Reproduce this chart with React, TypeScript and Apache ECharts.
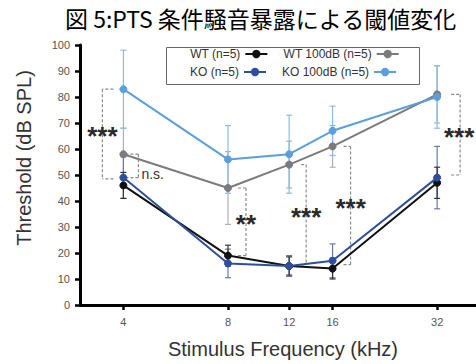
import React, { useEffect, useRef } from "react";
import * as echarts from "echarts";

// ---- data ----
const freqs = [4, 8, 12, 16, 32];
const tickLabels = [4, 8, 12, 16, 32];
const yTicks = [0, 10, 20, 30, 40, 50, 60, 70, 80, 90, 100];

const wt = [46, 19, 15, 14, 47];
const ko = [49, 16, 15, 17, 49];
const wt100 = [58, 45, 54, 61, 81];
const ko100 = [83, 56, 58, 67, 80];

const wtErr = [5, 4, 3.5, 4, 6];
const koErr = [8, 5.5, 4, 6.5, 12];
const wt100Err = [10, 14, 9, 8, 11];
const ko100Err = [15, 13, 15, 9.5, 12];

const seriesNames = ["WT (n=5)", "WT 100dB (n=5)", "KO (n=5)", "KO 100dB (n=5)"];

// significance brackets
const bracketFreq = [4, 4, 8, 12, 16, 32];
const bracketTop = [83, 58, 45, 54, 61, 81];
const bracketBottom = [48.5, 49, 19, 15.5, 15.5, 50];
const bracketLabel = ["***", "n.s.", "**", "***", "***", "***"];

// ---- layout / style (pixels) ----
const bracketLayout = [
  { vx: -21, ax: -10, lx: 0, ly: 2, align: "center" },
  { vx: 15, ax: 2, lx: 3, ly: 8, align: "left" },
  { vx: 18, ax: 10, lx: 0, ly: 2, align: "center" },
  { vx: 17, ax: 12, lx: 0, ly: 2, align: "center" },
  { vx: 18, ax: 11, lx: 0, ly: 2, align: "center" },
  { vx: 23, ax: 14, lx: -1, ly: 2, align: "center" },
];

const colors = {
  wt: "#111111",
  ko: "#2d4f9e",
  wt100: "#7b7b7b",
  ko100: "#5b9fdc",
};
const errColors = {
  wt: "#333333",
  ko: "#6677b0",
  wt100: "#b0b0b0",
  ko100: "#8dbbe6",
};

const FONT = "Liberation Sans, Arial, sans-serif";

function pts(vals: number[]) {
  return freqs.map((f, i) => [f, vals[i]]);
}
function errs(vals: number[], e: number[]) {
  return freqs.map((f, i) => [f, vals[i] - e[i], vals[i] + e[i]]);
}

function errSeries(name: string, vals: number[], e: number[], color: string) {
  return {
    type: "custom",
    name: name + "_err",
    silent: true,
    z: 1,
    data: errs(vals, e),
    renderItem: (params: any, api: any) => {
      const x = api.value(0);
      const lo = api.coord([x, api.value(1)]);
      const hi = api.coord([x, api.value(2)]);
      const cap = 3;
      const style = { stroke: color, lineWidth: 1.2 };
      return {
        type: "group",
        children: [
          { type: "line", shape: { x1: lo[0], y1: lo[1], x2: hi[0], y2: hi[1] }, style },
          { type: "line", shape: { x1: hi[0] - cap, y1: hi[1], x2: hi[0] + cap, y2: hi[1] }, style },
          { type: "line", shape: { x1: lo[0] - cap, y1: lo[1], x2: lo[0] + cap, y2: lo[1] }, style },
        ],
      };
    },
  };
}

function lineSeries(name: string, vals: number[], color: string, z: number) {
  return {
    type: "line",
    name,
    data: pts(vals),
    z,
    symbol: "circle",
    symbolSize: 7,
    lineStyle: { color, width: 2 },
    itemStyle: { color, borderColor: color, borderWidth: 1 },
  };
}

export default function App() {
  const ref = useRef<HTMLDivElement>(null);
  useEffect(() => {
    if (!ref.current) return;
    const chart = echarts.init(ref.current, null, { renderer: "svg" });
    const bracketData = bracketFreq.map((f, i) => [f, bracketTop[i], bracketBottom[i]]);
    const option: any = {
      animation: false,
      backgroundColor: "#ffffff",
      title: {
        text: "図 5:PTS 条件騒音暴露による閾値変化",
        left: 65,
        top: 5,
        padding: 0,
        textStyle: {
          fontFamily: "Noto Sans CJK JP",
          fontSize: 23,
          fontWeight: "normal",
          color: "#000",
          lineHeight: 26,
        },
      },
      grid: { left: 80, right: 0, top: 45, bottom: 55, containLabel: false },
      legend: [
        {
          data: [seriesNames[0], seriesNames[1]],
          left: 190,
          top: 48,
          padding: 0,
          align: "right",
          itemGap: 15,
          itemWidth: 22,
          itemHeight: 8,
          textStyle: { fontFamily: FONT, fontSize: 12, color: "#333" },
        },
        {
          data: [seriesNames[2], seriesNames[3]],
          left: 190,
          top: 66,
          padding: 0,
          align: "right",
          itemGap: 15,
          itemWidth: 22,
          itemHeight: 8,
          textStyle: { fontFamily: FONT, fontSize: 12, color: "#333" },
        },
      ],
      graphic: [
        {
          type: "rect",
          left: 164,
          top: 45,
          shape: { width: 253, height: 37 },
          style: { fill: "none", stroke: "#666", lineWidth: 1 },
          z: 0,
        },
      ],
      xAxis: {
        type: "log",
        logBase: 2,
        min: 3,
        max: 41.4,
        name: "Stimulus Frequency (kHz)",
        nameLocation: "middle",
        nameGap: 34,
        nameTextStyle: { fontFamily: FONT, fontSize: 20, color: "#333", padding: [0, 0, 0, 10] },
        axisLine: { lineStyle: { color: "#000", width: 3 } },
        axisTick: { show: true, customValues: tickLabels, length: 5, lineStyle: { color: "#000", width: 2.5 } },
        axisLabel: {
          customValues: tickLabels,
          margin: 11,
          fontFamily: FONT,
          fontSize: 11,
          color: "#555",
        },
        splitLine: { show: false },
        minorTick: { show: false },
      },
      yAxis: {
        type: "value",
        min: 0,
        max: 100,
        interval: 10,
        name: "Threshold (dB SPL)",
        nameLocation: "middle",
        nameGap: 46,
        nameTextStyle: { fontFamily: FONT, fontSize: 20, color: "#333", padding: [0, 0, 0, 34] },
        axisLine: { show: true, lineStyle: { color: "#000", width: 3 } },
        axisTick: { show: true, length: 5, lineStyle: { color: "#000", width: 2.5 } },
        axisLabel: {
          margin: 10,
          fontFamily: FONT,
          fontSize: 11,
          color: "#555",
          customValues: yTicks,
        },
        splitLine: { show: false },
      },
      series: [
        errSeries("wt100", wt100, wt100Err, errColors.wt100),
        errSeries("ko100", ko100, ko100Err, errColors.ko100),
        errSeries("ko", ko, koErr, errColors.ko),
        errSeries("wt", wt, wtErr, errColors.wt),
        {
          type: "custom",
          name: "brackets",
          silent: true,
          z: 2,
          data: bracketData,
          renderItem: (params: any, api: any) => {
            const i = params.dataIndex;
            const L = bracketLayout[i];
            const x = api.value(0);
            const top = api.coord([x, api.value(1)]);
            const bot = api.coord([x, api.value(2)]);
            const vx = top[0] + L.vx;
            const axp = top[0] + L.ax;
            const st = { stroke: "#8a8a8a", lineWidth: 1.2, lineDash: [3, 2] };
            const midY = (top[1] + bot[1]) / 2;
            const isNs = bracketLabel[i] === "n.s.";
            return {
              type: "group",
              children: [
                { type: "line", shape: { x1: vx, y1: top[1], x2: vx, y2: bot[1] }, style: st },
                { type: "line", shape: { x1: axp, y1: top[1], x2: vx, y2: top[1] }, style: st },
                { type: "line", shape: { x1: axp, y1: bot[1], x2: vx, y2: bot[1] }, style: st },
                {
                  type: "text",
                  x: vx + L.lx,
                  y: midY + L.ly,
                  z2: 10,
                  style: {
                    text: bracketLabel[i],
                    fontFamily: FONT,
                    fontSize: isNs ? 14 : 26,
                    fontWeight: isNs ? "normal" : "bold",
                    fill: isNs ? "#333" : "#2a2a2a",
                    align: L.align,
                    verticalAlign: "middle",
                  },
                },
              ],
            };
          },
        },
        lineSeries(seriesNames[1], wt100, colors.wt100, 3),
        lineSeries(seriesNames[3], ko100, colors.ko100, 4),
        lineSeries(seriesNames[0], wt, colors.wt, 5),
        lineSeries(seriesNames[2], ko, colors.ko, 6),
      ],
    };
    chart.setOption(option);
    return () => chart.dispose();
  }, []);
  return <div ref={ref} style={{ width: 476, height: 364, position: "absolute", left: 0, top: 0 }} />;
}
